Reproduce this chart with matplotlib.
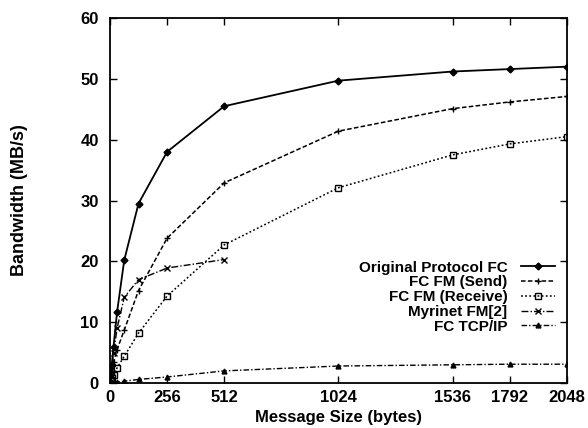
import matplotlib
matplotlib.use("Agg")
import matplotlib.pyplot as plt

plt.rcParams['font.family'] = ['Liberation Sans', 'DejaVu Sans']

# message sizes (bytes)
sizes = [4, 8, 16, 32, 64, 128, 256, 512, 1024, 1536, 1792, 2048]
orig_fc = [1.5, 3.0, 6.0, 11.7, 20.2, 29.5, 38.0, 45.5, 49.7, 51.2, 51.6, 52.0]
fm_send = [1.0, 2.0, 3.5, 5.5, 8.7, 15.2, 23.8, 32.9, 41.4, 45.1, 46.2, 47.1]
fm_recv = [0.5, 0.8, 1.3, 2.5, 4.4, 8.2, 14.3, 22.7, 32.1, 37.5, 39.3, 40.5]

myri_sizes = [4, 8, 16, 32, 64, 128, 256, 512]
myrinet = [1.2, 2.5, 5.0, 9.0, 14.1, 17.0, 18.9, 20.3]

tcp_ip = [0.05, 0.1, 0.15, 0.2, 0.3, 0.6, 1.0, 2.0, 2.8, 3.0, 3.1, 3.1]

fig = plt.figure(figsize=(5.88, 4.28), dpi=100)
ax = fig.add_axes([0.187, 0.105, 0.777, 0.853])

ax.plot(sizes, orig_fc, color='black', lw=1.3, ls='-', marker='D', ms=3.5,
        label='Original Protocol FC')
ax.plot(sizes, fm_send, color='black', lw=1.1, ls=(0, (3, 1.5)), marker='+', ms=5,
        label='FC FM (Send)')
ax.plot(sizes, fm_recv, color='black', lw=1.1, ls=(0, (1.2, 1.5)), marker='s', ms=4,
        mfc='none', label='FC FM (Receive)')
ax.plot(myri_sizes, myrinet, color='black', lw=1.0, ls=(0, (5, 1.5, 1, 1.5)), marker='x', ms=5,
        label='Myrinet FM[2]')
ax.plot(sizes, tcp_ip, color='black', lw=1.0, ls=(0, (4, 1.5, 1, 1.5)), marker='^', ms=3.5,
        label='FC TCP/IP')

ax.set_xlim(0, 2048)
ax.set_ylim(0, 60)
ax.set_xticks([0, 256, 512, 1024, 1536, 1792, 2048])
ax.set_yticks([0, 10, 20, 30, 40, 50, 60])
ax.tick_params(direction='in', length=5, width=1, labelsize=12, top=True, right=True)
ax.tick_params(axis='x', pad=5)
ax.tick_params(axis='y', pad=8)
for lbl in ax.get_xticklabels() + ax.get_yticklabels():
    lbl.set_fontweight('bold')
for sp in ax.spines.values():
    sp.set_linewidth(1.3)

ax.set_xlabel('Message Size (bytes)', fontsize=12, fontweight='bold', va='top')
ax.xaxis.set_label_coords(0.5, -0.074)
ax.set_ylabel('Bandwidth (MB/s)', fontsize=13, fontweight='bold')
ax.yaxis.set_label_coords(-0.18, 0.5)

ax.legend(loc='lower right', bbox_to_anchor=(0.974, 0.135), frameon=False, markerfirst=False,
          prop={'size': 11, 'weight': 'bold'}, handlelength=2.2, labelspacing=0.05,
          handletextpad=0.9, borderpad=0, borderaxespad=0)

fig.savefig('out.png', dpi=100)
